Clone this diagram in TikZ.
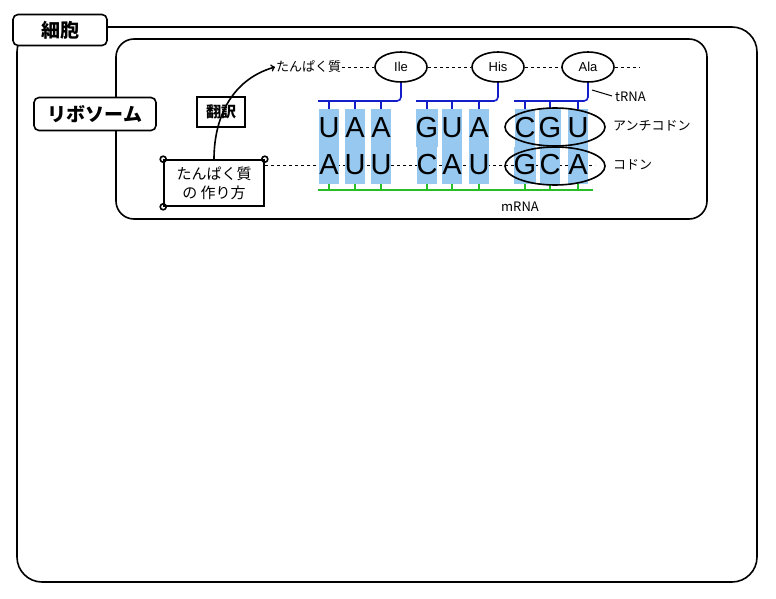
\documentclass[tikz,border=0pt]{standalone}
\usepackage{fontspec}
\setmainfont{Liberation Sans}
\newfontfamily\jp{Noto Sans CJK JP}
\usetikzlibrary{positioning}
\usetikzlibrary{shapes.geometric}
\definecolor{basecol}{RGB}{150,200,240}
\definecolor{trnacol}{RGB}{20,30,200}
\definecolor{mrnacol}{RGB}{40,190,40}
\tikzset{
  thick/.style={line width=1.6pt},
  boxlbl/.style={draw,thick,fill=white,rounded corners=5pt,font=\jp\bfseries\fontsize{19}{21}\selectfont},
  basebox/.style={fill=basecol,minimum width=20pt,minimum height=37pt,inner sep=0pt,font=\fontsize{29}{30}\selectfont},
  aminolbl/.style={draw,thick,ellipse,fill=white,minimum width=52pt,minimum height=30pt,inner sep=0pt,font=\fontsize{13}{15}\selectfont},
  txt/.style={font=\jp\fontsize{13}{15}\selectfont,inner sep=1pt}
}
\begin{document}
\begin{tikzpicture}[x=1pt,y=-1pt]
\useasboundingbox (0,0) rectangle (776,599);
\draw[thick,rounded corners=25pt] (17,27) rectangle (757,582);
\node[boxlbl,minimum width=94pt,minimum height=31pt] (cell) at (60,30) {細胞};
\draw[thick,rounded corners=18pt] (116,39) rectangle (707,219);
\node[boxlbl,minimum width=122pt,minimum height=33pt] (ribo) at (95,114) {リボソーム};

% dashed backbone lines
\draw[dashed] (265,165) -- (595,165);
\node[txt,anchor=west] (prot) at (275,67) {たんぱく質};
\foreach \x/\n/\t in {401/ile/Ile,498/his/His,588/ala/Ala}
  \node[aminolbl] (\n) at (\x,67) {\t};
\draw[dashed] (prot) -- (ile) -- (his) -- (ala) -- (640,67);

% tRNA
\foreach \a/\b/\c/\n in {329/355/381/ile,427/452/479/his,525/550/578/ala}{
  \draw[trnacol,thick,rounded corners=4pt] (\n.south) |- (\a-11,101);
  \foreach \s in {\a,\b,\c} \draw[trnacol,line width=1.2pt] (\s,101) -- (\s,112);
}
\draw[line width=1pt] (592,90) -- (612,96);
\node[txt,anchor=west] (trna) at (614,97) {tRNA};

% mRNA
\draw[mrnacol,thick] (318,190) -- (593,190);
\foreach \s in {329,355,381,427,452,479,525,550,578} \draw[mrnacol,line width=1.2pt] (\s,180) -- (\s,190);
\node[txt] (mrna) at (520,207) {mRNA};

% bases
\foreach \x/\u/\l in {329/U/A,355/A/U,381/A/U,427/G/C,452/U/A,479/A/U,525/C/G,550/G/C,578/U/A}{
  \node[basebox] (u\x) at (\x,128) {\u};
  \node[basebox] (l\x) at (\x,165) {\l};
}
\draw[thick] (555,127) ellipse (50pt and 19pt);
\draw[thick] (555,166) ellipse (50pt and 19pt);
\node[txt,anchor=west] (anti) at (612,126) {アンチコドン};
\node[txt,anchor=west] (codon) at (612,165) {コドン};

% scroll and translation
\node[draw,thick,fill=white,minimum width=100pt,minimum height=46pt,align=center,txt,inner sep=3pt,font=\jp\fontsize{15}{19}\selectfont] (scroll) at (214,183) {たんぱく質\\の 作り方};
\draw[thick] (scroll.north west) circle (3pt) (scroll.north east) circle (3pt) (scroll.south west) circle (3pt);
\node[draw,thick,fill=white,txt,minimum width=48pt,minimum height=30pt,font=\jp\bfseries\fontsize{15}{17}\selectfont] (trans) at (221,112) {翻訳};
\draw[thick,->] (scroll.north) .. controls (214,120) and (230,80) .. (prot.west);
\end{tikzpicture}
\end{document}
